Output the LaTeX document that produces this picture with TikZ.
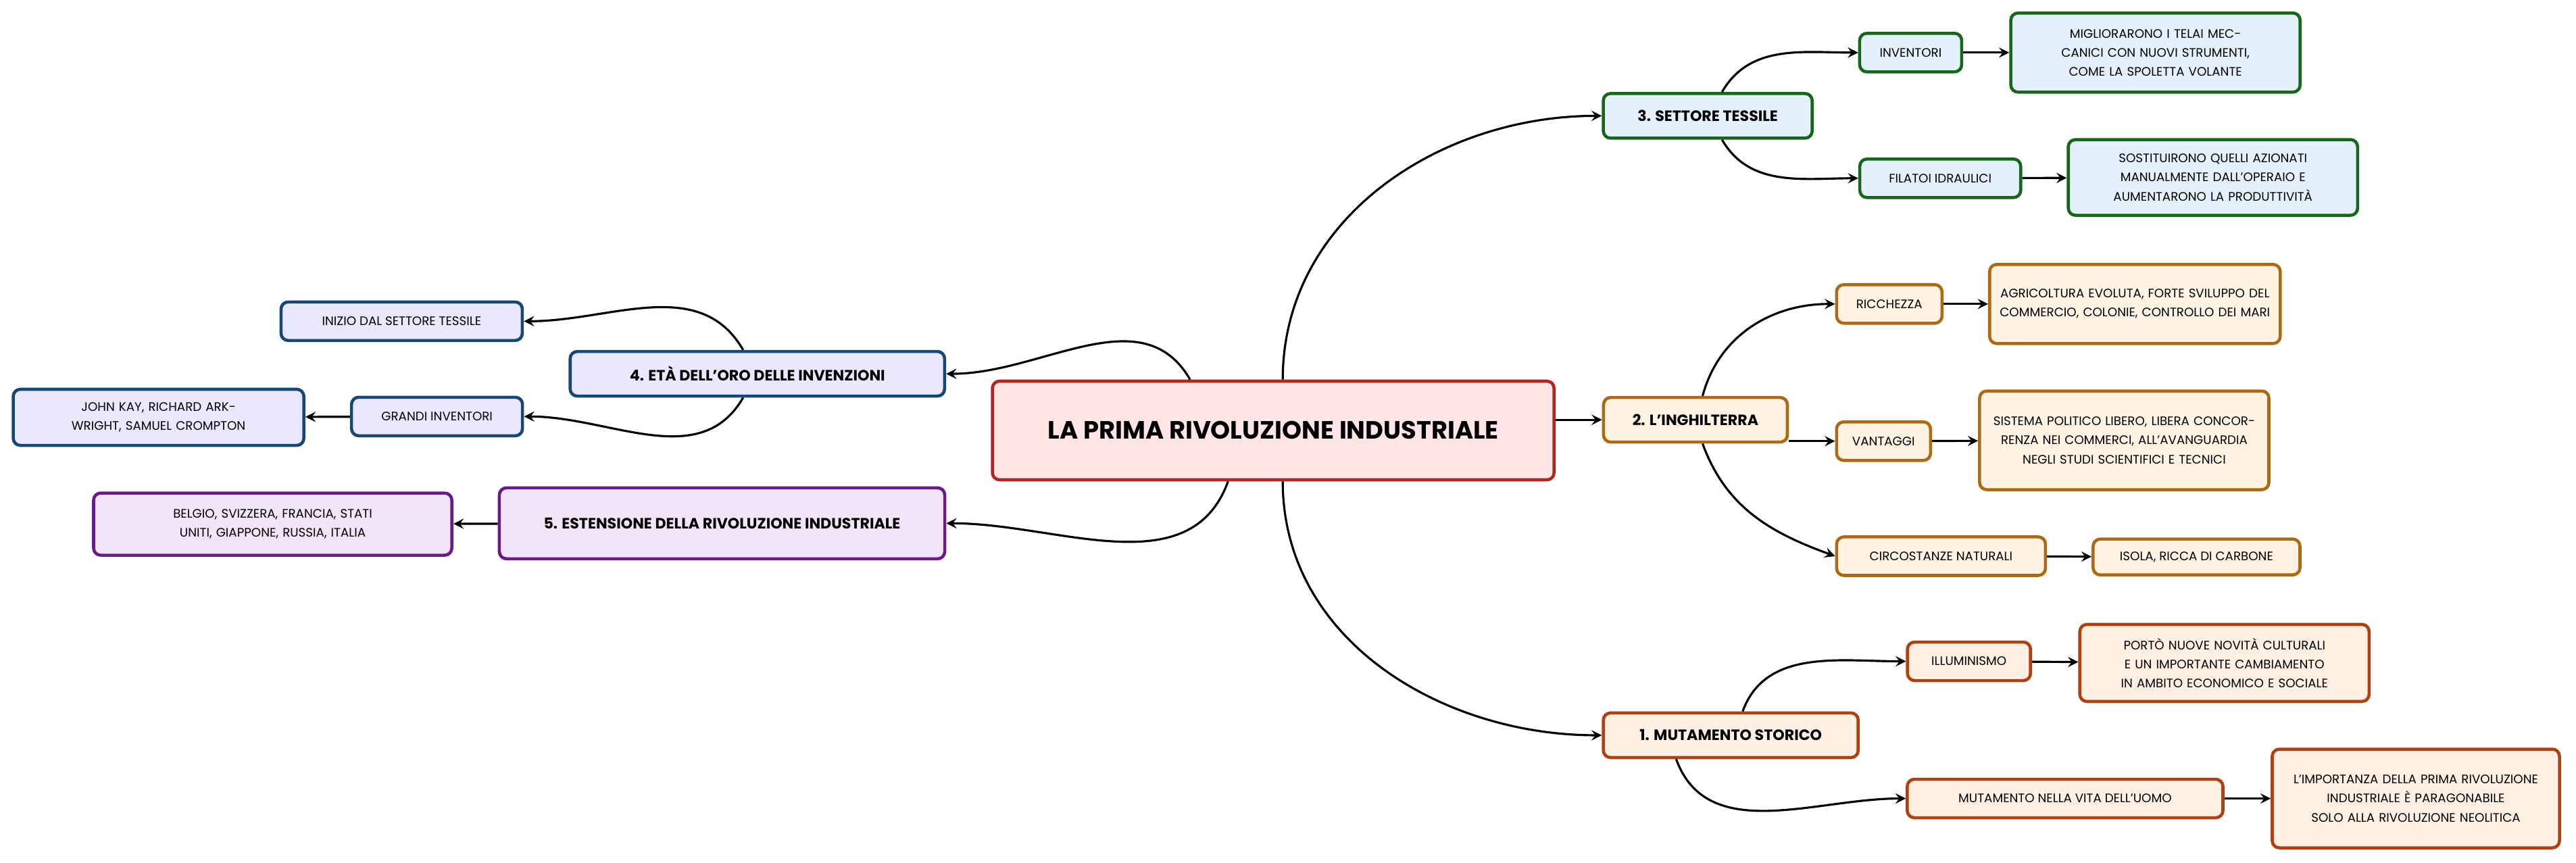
\documentclass[tikz,border=0pt]{standalone}
\usepackage{fontspec}
\setmainfont{Poppins}
\usetikzlibrary{arrows}
\definecolor{rootline}{HTML}{B3261E}
\definecolor{rootfill}{HTML}{FFE6E6}
\definecolor{greenline}{HTML}{17661A}
\definecolor{greenfill}{HTML}{E4F1FC}
\definecolor{brownline}{HTML}{AD6A12}
\definecolor{brownfill}{HTML}{FFF4E4}
\definecolor{rustline}{HTML}{B0400F}
\definecolor{rustfill}{HTML}{FFF0E3}
\definecolor{navyline}{HTML}{174775}
\definecolor{navyfill}{HTML}{EAE8FF}
\definecolor{purpleline}{HTML}{6A1B8A}
\definecolor{purplefill}{HTML}{F3E5F8}
\tikzstyle{box} = [rectangle, rounded corners=3pt, line width=1.3pt, inner sep=0pt, align=center, text centered]
\tikzstyle{root} = [box, draw=rootline, fill=rootfill, minimum width=8.31cm, minimum height=1.46cm, font=\fontsize{10.5}{12}\selectfont\bfseries]
\tikzstyle{topic} = [box, minimum height=0.66cm, font=\fontsize{6.3}{8}\selectfont\bfseries]
\tikzstyle{leaf} = [box, minimum height=0.57cm, font=\fontsize{5.2}{8}\selectfont]
\tikzstyle{green} = [draw=greenline, fill=greenfill]
\tikzstyle{brown} = [draw=brownline, fill=brownfill]
\tikzstyle{rust} = [draw=rustline, fill=rustfill]
\tikzstyle{navy} = [draw=navyline, fill=navyfill]
\tikzstyle{purple} = [draw=purpleline, fill=purplefill]
\tikzstyle{arrow} = [line width=0.9pt,->,>=stealth]

\begin{document}
\begin{tikzpicture}[x=0.02431cm, y=-0.02431cm]
    \useasboundingbox (0,0) rectangle (1568,525);
    \node [root] at (775,262) (root) {LA PRIMA RIVOLUZIONE INDUSTRIALE};
    % right side
    \node [topic, green, minimum width=3.09cm] at (1039.5,70.5) (tessile) {3. SETTORE TESSILE};
    \node [leaf, green, minimum width=1.51cm] at (1163,32) (inventori) {INVENTORI};
    \node [leaf, green, minimum width=4.28cm, minimum height=1.17cm, text width=3.9cm] at (1312,32) (telai) {MIGLIORARONO I TELAI MECCANICI CON NUOVI STRUMENTI, COME LA SPOLETTA VOLANTE};
    \node [leaf, green, minimum width=2.38cm] at (1181,108.5) (filatoi) {FILATOI IDRAULICI};
    \node [leaf, green, minimum width=4.28cm, minimum height=1.12cm, text width=3.9cm] at (1347,108) (sostituirono) {SOSTITUIRONO QUELLI AZIONATI MANUALMENTE DALL'OPERAIO E AUMENTARONO LA PRODUTTIVITÀ};
    \node [topic, brown, minimum width=2.72cm] at (1032,255.5) (inghilterra) {2. L'INGHILTERRA};
    \node [leaf, brown, minimum width=1.56cm] at (1150,185) (ricchezza) {RICCHEZZA};
    \node [leaf, brown, minimum width=4.30cm, minimum height=1.17cm, text width=4.1cm] at (1299.5,185) (agricoltura) {AGRICOLTURA EVOLUTA, FORTE SVILUPPO DEL COMMERCIO, COLONIE, CONTROLLO DEI MARI};
    \node [leaf, brown, minimum width=1.39cm] at (1146.5,268.5) (vantaggi) {VANTAGGI};
    \node [leaf, brown, minimum width=4.28cm, minimum height=1.46cm, text width=4.1cm] at (1293,268) (sistema) {SISTEMA POLITICO LIBERO, LIBERA CONCORRENZA NEI COMMERCI, ALL'AVANGUARDIA NEGLI STUDI SCIENTIFICI E TECNICI};
    \node [leaf, brown, minimum width=3.09cm] at (1181.5,338.5) (circostanze) {CIRCOSTANZE NATURALI};
    \node [leaf, brown, minimum width=3.06cm, minimum height=0.53cm] at (1337,339) (isola) {ISOLA, RICCA DI CARBONE};
    \node [topic, rust, minimum width=3.77cm] at (1053.5,447.5) (mutamento) {1. MUTAMENTO STORICO};
    \node [leaf, rust, minimum width=1.82cm] at (1198.5,402.5) (illuminismo) {ILLUMINISMO};
    \node [leaf, rust, minimum width=4.28cm, minimum height=1.14cm, text width=4.0cm] at (1354,403.5) (porto) {PORTÒ NUOVE NOVITÀ CULTURALI E UN IMPORTANTE CAMBIAMENTO IN AMBITO ECONOMICO E SOCIALE};
    \node [leaf, rust, minimum width=4.67cm] at (1257,486) (vita) {MUTAMENTO NELLA VITA DELL'UOMO};
    \node [leaf, rust, minimum width=4.25cm, minimum height=1.46cm, text width=4.05cm] at (1470.5,486) (importanza) {L'IMPORTANZA DELLA PRIMA RIVOLUZIONE INDUSTRIALE È PARAGONABILE SOLO ALLA RIVOLUZIONE NEOLITICA};
    % left side
    \node [topic, navy, minimum width=5.54cm] at (461,227.5) (invenzioni) {4. ETÀ DELL'ORO DELLE INVENZIONI};
    \node [leaf, navy, minimum width=3.57cm] at (244.5,195.5) (inizio) {INIZIO DAL SETTORE TESSILE};
    \node [leaf, navy, minimum width=2.53cm] at (266,253.5) (grandi) {GRANDI INVENTORI};
    \node [leaf, navy, minimum width=4.30cm, minimum height=0.83cm, text width=4.1cm] at (96.5,254) (kay) {JOHN KAY, RICHARD ARKWRIGHT, SAMUEL CROMPTON};
    \node [topic, purple, minimum width=6.59cm, minimum height=1.05cm] at (439.5,318.5) (estensione) {5. ESTENSIONE DELLA RIVOLUZIONE INDUSTRIALE};
    \node [leaf, purple, minimum width=5.30cm, minimum height=0.92cm, text width=4.9cm] at (166,319) (paesi) {BELGIO, SVIZZERA, FRANCIA, STATI UNITI, GIAPPONE, RUSSIA, ITALIA};
    \draw [arrow] ([xshift=4]root.north) to[out=90, in=180] (tessile.west);
    \draw [arrow] (root.east |- inghilterra.west) -- (inghilterra.west);
    \draw [arrow] ([xshift=4]root.south) to[out=-90, in=180] (mutamento.west);
    \draw [arrow] ([xshift=-35]root.north) to[out=120, in=0] (invenzioni.east);
    \draw [arrow] ([xshift=-19]root.south) to[out=-110, in=0] (estensione.east);
    \draw [arrow] ([xshift=6]tessile.north) to[out=60, in=180] (inventori.west);
    \draw [arrow] ([xshift=6]tessile.south) to[out=-60, in=180] (filatoi.west);
    \draw [arrow] (inventori) -- (telai);
    \draw [arrow] (filatoi) -- (sostituirono);
    \draw [arrow] ([xshift=3]inghilterra.north) to[out=75, in=180] (ricchezza.west);
    \draw [arrow] (inghilterra.east |- vantaggi.west) -- (vantaggi.west);
    \draw [arrow] ([xshift=3]inghilterra.south) to[out=-70, in=160] (circostanze.west);
    \draw [arrow] (ricchezza) -- (agricoltura);
    \draw [arrow] (vantaggi) -- (sistema);
    \draw [arrow] (circostanze) -- (isola);
    \draw [arrow] ([xshift=5]mutamento.north) to[out=70, in=180] (illuminismo.west);
    \draw [arrow] ([xshift=-23]mutamento.south) to[out=-70, in=180] (vita.west);
    \draw [arrow] (illuminismo) -- (porto);
    \draw [arrow] (vita) -- (importanza);
    \draw [arrow] ([xshift=-6]invenzioni.north) to[out=120, in=0] (inizio.east);
    \draw [arrow] ([xshift=-6]invenzioni.south) to[out=-120, in=0] (grandi.east);
    \draw [arrow] (grandi) -- (kay);
    \draw [arrow] (estensione) -- (paesi);
\end{tikzpicture}
\end{document}
